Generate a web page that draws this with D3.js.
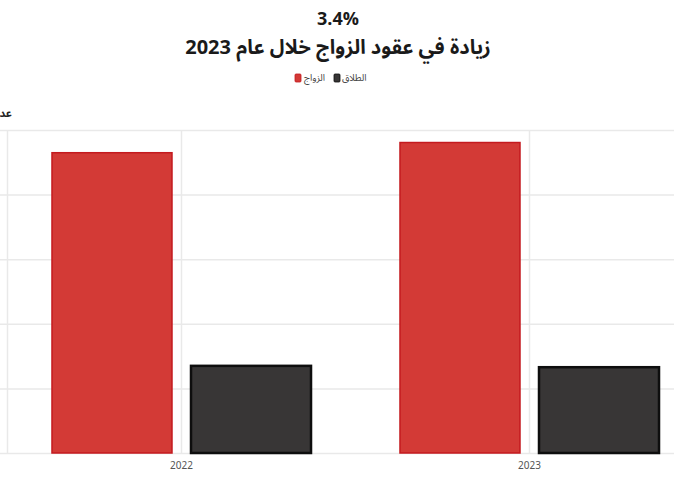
<!DOCTYPE html>
<html lang="ar">
<head>
<meta charset="utf-8">
<script src="https://cdn.jsdelivr.net/npm/d3@7"></script>
<style>
  html, body { margin: 0; padding: 0; background: #fff; }
  svg { display: block; }
  .grid line { stroke: #e9e9e9; stroke-width: 1.5; }
  .grid .domain { display: none; }
  text { font-family: "Noto Sans Arabic", "DejaVu Sans", "Noto Sans", sans-serif; }
</style>
</head>
<body>
<svg id="chart"></svg>
<script>
const years = ["2022", "2023"];
const seriesNames = ["الزواج", "الطلاق"];
const marriage = [929666, 961220];
const divorce = [269834, 265606];
const yTicks = [0, 200000, 400000, 600000, 800000, 1000000];

const width = 674;
const height = 485;

const colors = {
  "الزواج": { fill: "#d33a36", stroke: "#c41a1f", sw: 1.5 },
  "الطلاق": { fill: "#383636", stroke: "#0e0e0e", sw: 2.5 }
};

const svg = d3.select("#chart")
  .attr("width", width)
  .attr("height", height)
  .attr("viewBox", `0 0 ${width} ${height}`);

const x = d3.scaleBand()
  .domain(years)
  .range([7.5, 703.5])
  .padding(0);

const xSub = d3.scaleBand()
  .domain(seriesNames)
  .range([0, x.bandwidth()])
  .paddingInner(19 / 139)
  .paddingOuter(0.32);

const y = d3.scaleLinear()
  .domain([0, 1000000])
  .range([453, 130]);

// horizontal grid
svg.append("g")
  .attr("class", "grid")
  .attr("transform", `translate(${width},0)`)
  .call(d3.axisLeft(y).tickValues(yTicks).tickSize(width).tickFormat(""));

// y axis line and vertical grid at category centres
svg.append("line")
  .attr("x1", 7.5).attr("x2", 7.5)
  .attr("y1", y(1000000)).attr("y2", y(0))
  .attr("stroke", "#e9e9e9").attr("stroke-width", 1.5);

svg.append("g")
  .selectAll("line")
  .data(years)
  .join("line")
  .attr("x1", d => x(d) + x.bandwidth() / 2)
  .attr("x2", d => x(d) + x.bandwidth() / 2)
  .attr("y1", y(1000000))
  .attr("y2", y(0))
  .attr("stroke", "#e9e9e9")
  .attr("stroke-width", 1.5);

// bars
const rows = years.map((yr, i) => ({ year: yr, values: [marriage[i], divorce[i]] }));

svg.append("g")
  .selectAll("g")
  .data(rows)
  .join("g")
  .attr("transform", d => `translate(${x(d.year)},0)`)
  .selectAll("rect")
  .data(d => d.values.map((v, j) => ({ key: seriesNames[j], value: v })))
  .join("rect")
  .attr("x", d => xSub(d.key))
  .attr("width", xSub.bandwidth())
  .attr("y", d => y(d.value))
  .attr("height", d => y(0) - y(d.value))
  .attr("fill", d => colors[d.key].fill)
  .attr("stroke", d => colors[d.key].stroke)
  .attr("stroke-width", d => colors[d.key].sw);

// x labels
svg.append("g")
  .selectAll("text")
  .data(years)
  .join("text")
  .attr("x", d => x(d) + x.bandwidth() / 2)
  .attr("y", 469)
  .attr("text-anchor", "middle")
  .attr("font-size", 10)
  .attr("fill", "#555")
  .text(d => d);

// y axis title (cut off at left edge, as in the source)
svg.append("text")
  .attr("x", 12)
  .attr("y", 117)
  .attr("text-anchor", "end")
  .attr("font-size", 11)
  .attr("font-weight", 700)
  .attr("fill", "#222")
  .text("عدد");

// titles
svg.append("text")
  .attr("x", 338)
  .attr("y", 25)
  .attr("text-anchor", "middle")
  .attr("font-size", 18)
  .attr("font-weight", 700)
  .attr("fill", "#1a1a1a")
  .text("3.4%");

svg.append("text")
  .attr("x", 338)
  .attr("y", 54)
  .attr("text-anchor", "middle")
  .attr("direction", "rtl")
  .attr("font-size", 20)
  .attr("font-weight", 700)
  .attr("fill", "#1a1a1a")
  .text("زيادة في عقود الزواج خلال عام 2023");

// legend
const legendItems = [
  { key: "الزواج", sx: 295, tx: 304 },
  { key: "الطلاق", sx: 334, tx: 342 }
];

const legend = svg.append("g");
legend.selectAll("rect")
  .data(legendItems)
  .join("rect")
  .attr("x", d => d.sx)
  .attr("y", 74)
  .attr("width", 6)
  .attr("height", 8)
  .attr("rx", 1)
  .attr("fill", d => colors[d.key].fill)
  .attr("stroke", d => colors[d.key].stroke)
  .attr("stroke-width", 0.8);

legend.selectAll("text")
  .data(legendItems)
  .join("text")
  .attr("x", d => d.tx)
  .attr("y", 81)
  .attr("text-anchor", "start")
  .attr("font-size", 9.5)
  .attr("fill", "#444")
  .text(d => d.key);
</script>
</body>
</html>
